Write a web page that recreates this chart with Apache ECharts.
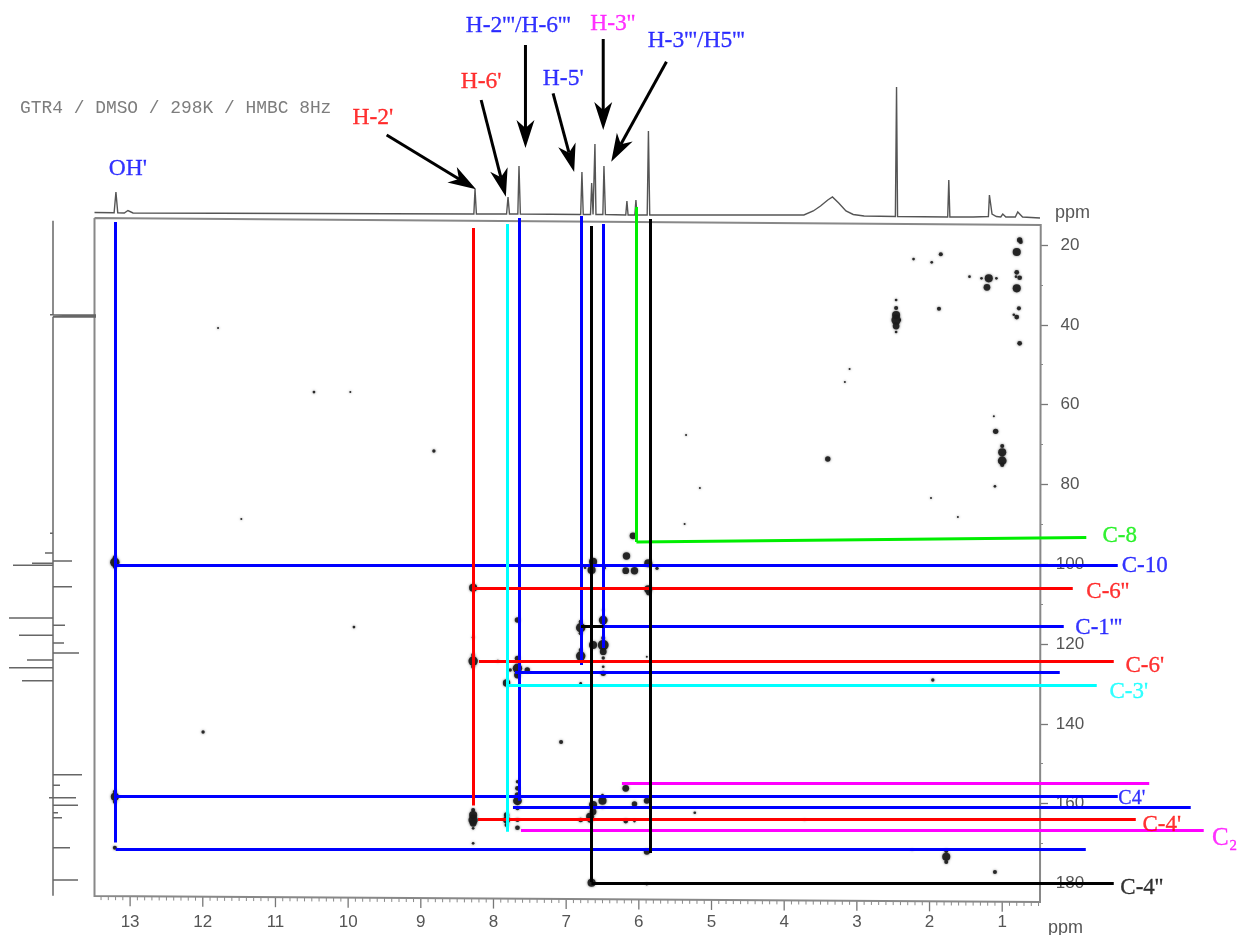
<!DOCTYPE html>
<html>
<head>
<meta charset="utf-8">
<script src="https://cdn.jsdelivr.net/npm/echarts@6/dist/echarts.min.js"></script>
<style>html,body{margin:0;padding:0;background:#fff}#c{width:1239px;height:935px}</style>
</head>
<body>
<div id="c"></div>
<script>
// Axis ticks
const ppmTicks = [13,12,11,10,9,8,7,6,5,4,3,2,1];
const carbonTicks = [20,40,60,80,100,120,140,160,180];
const ppmMinorTicks = [];
for (let i = 5; i <= 134; i++) { if (i % 10) ppmMinorTicks.push(i / 10); }
const carbonMinorTicks = [30,50,70,90,110,130,150,170];

// 1H projection (ppm, intensity)
const protonPpm = [13.49,13.22,13.195,13.17,13.08,13.03,12.96,8.27,8.254,8.235,7.82,7.80,7.78,7.665,7.649,7.63,6.80,6.783,6.765,6.665,6.649,6.63,6.62,6.604,6.59,6.495,6.48,6.46,6.18,6.164,6.148,6.055,6.04,6.025,5.885,5.868,5.85,3.729,3.6,3.5,3.4,3.336,3.25,3.15,3.05,2.9,2.47,2.454,2.44,1.75,1.735,1.72,1.4,1.19,1.176,1.14,1.08,1.02,0.992,0.95,0.82,0.786,0.72,0.48];
const protonInt = [7.5,7.2,28,7.2,7,9.5,7,6,31,6,6,23,6,6,54,6,5.5,48,5.5,5.5,37,5.5,5.5,76,5.5,5.5,54,5.5,5,19,5,5,20,5,5,89,5,5,9,14,20,23,17,9,5.5,4,3.5,133,3.5,3,40,3,3,3.5,25,6,3.5,3,6,3,3,8,3,2];

// 13C projection (ppm, intensity; sign = side of the baseline)
const carbonPpm = [27.5,37.5,37.54,37.8,38.05,92.26,97.19,99.2,99.77,100.28,105.64,113.48,115.31,117.82,119.75,122.26,124.01,125.94,129.2,152.76,155.41,158.5,158.52,160.43,162.28,163.53,171.05,179.15];
const carbonInt = [-2,-3,43,43,43,-3,-8,19,-21,-40,19,-44,12,-34,11,26,-26,-44,-31,29,7,-4,23,25,5,9,17,25];
const carbonRange = [13.2,183.1];

// HMBC cross peaks: [1H ppm, 13C ppm, intensity]
const aliphaticPeaks = [[0.76,18.75,4],[0.745,19.25,3],[0.80,21.75,6],[1.845,22.33,3],[2.22,23.51,2],[1.97,24.34,2],[0.80,26.84,3.5],[0.76,28.2,3.5],[0.81,27.94,2],[1.185,28.35,6],[1.285,28.35,2],[1.08,28.35,2],[1.45,27.94,2],[1.21,30.6,5],[0.80,30.85,6],[0.77,35.87,3],[1.87,35.97,3],[0.80,38.05,3.5],[0.84,37.47,2],[2.41,38.8,2],[0.76,44.64,3.5],[2.46,33.78,2],[2.46,35.79,3],[2.46,37.54,6],[2.46,38.8,7],[2.46,40.3,5],[2.46,41.8,2],[11.79,40.8,1.5]];
const midPeaks = [[1.115,62.93,1.5],[1.09,66.69,4],[1.00,70.38,3],[1.00,71.96,6],[1.00,74.06,6.5],[1.00,75.14,3],[1.10,80.48,2],[3.40,73.63,4],[3.165,54.34,1.5],[3.10,51.08,1.5],[10.47,56.84,2],[9.97,56.84,1.5],[8.82,71.63,2.5],[11.47,88.67,1.5],[5.35,67.62,1.5],[5.16,80.9,1.5],[5.37,89.92,1.5],[1.98,83.41,1.5],[1.61,88.17,1.5],[9.92,115.74,2],[1.955,129.02,2.5],[11.996,142.06,2.5],[7.07,144.57,3]];
const aromaticPeaks = [[6.08,92.86,5],[6.17,97.95,5.5],[6.63,99.37,6],[6.65,101.45,6],[6.74,100.88,2],[6.47,100.95,2],[6.18,101.63,5],[6.06,101.63,5.5],[5.87,99.77,6],[5.75,101.03,2.5],[8.28,105.89,6],[5.87,106.29,6],[5.87,107.3,3],[7.67,113.99,4],[6.80,115.92,7],[6.80,114.42,3],[6.80,117.32,3],[6.49,113.99,6.5],[6.49,111.48,2],[6.80,123.01,7],[6.80,121.5,3],[6.63,120.25,6],[6.49,120.25,8],[6.49,118.5,3],[6.49,121.93,5],[6.49,123.51,2.5],[8.28,124.26,7],[8.28,118.32,2],[8.28,122.76,3],[8.28,125.69,3],[7.94,124.26,2],[7.67,123.59,4],[7.67,126.09,7],[7.67,127.77,5],[7.535,126.52,4],[7.77,126.52,2.5],[7.82,129.78,5.5],[6.49,125.69,2],[6.49,127.34,4],[6.80,129.85,2],[5.89,123.18,1.5],[13.21,99.52,7],[13.21,98.27,3],[13.21,100.63,3]];
const carbonylPeaks = [[8.28,161.6,3],[8.28,162.86,6],[8.28,164.1,7],[8.28,164.94,5],[8.28,166.19,2],[8.28,169.95,2],[7.82,162.86,4],[7.82,164.1,5],[7.82,165.37,3],[7.67,154.51,2.5],[7.67,156.17,3.5],[7.67,157.85,4],[7.67,159.28,6.5],[7.67,161.18,3],[7.67,164.1,3],[7.67,166.04,3.5],[6.50,159.28,6],[6.50,157.85,2],[6.50,160.93,2],[6.63,160.35,6],[6.63,162.03,5],[6.67,163.28,6],[6.67,164.1,4],[6.80,164.1,3.5],[6.18,156.17,5],[6.06,160.1,4],[5.89,159.28,4.5],[6.18,164.36,3.5],[6.06,164.36,2],[5.89,172.05,4.5],[6.65,179.83,6],[5.89,180.15,2],[5.23,162.28,2],[3.72,164.1,1.5],[13.21,158.27,6],[13.21,157.02,3],[13.21,159.53,3],[13.21,171.05,3],[2.24,171.63,1.5],[1.77,171.88,3],[1.77,173.31,6],[1.77,174.64,3],[1.10,177.14,3]];

// Assignment guide lines: [[1H ppm, 13C ppm],[1H ppm, 13C ppm]]
const blueGuides = [
  [[13.199,14.24],[13.199,169.75]],[[7.642,13.23],[7.642,159.28]],[[6.796,12.73],[6.796,125.26]],[[6.487,14.74],[6.487,121.0]],
  [[13.199,100.28],[-0.59,100.28]],[[6.487,115.54],[0.153,115.54]],[[7.704,127.09],[0.208,127.09]],
  [[13.199,158.2],[-0.59,158.2]],[[7.732,160.93],[-1.594,160.93]],[[13.199,171.46],[-0.15,171.46]]
];
const redGuides = [
  [[8.282,15.74],[8.282,160.48]],[[8.282,106.09],[0.029,106.09]],[[8.20,124.34],[-0.535,124.34]],[[8.213,163.94],[-0.838,163.94]]
];
const cyanGuides = [[[7.808,14.74],[7.808,167.04]],[[7.808,130.35],[-0.301,130.35]]];
const blackGuides = [
  [[6.652,15.24],[6.652,179.65]],[[5.841,13.48],[5.841,172.38]],[[6.796,115.54],[6.487,115.54]],[[6.652,179.83],[-0.535,179.83]]
];
const greenGuides = [[[6.033,10.48],[6.033,94.44]],[[6.033,94.44],[-0.157,93.31]]];
const magentaGuides = [[[6.233,154.91],[-1.023,154.91]],[[7.622,166.69],[-1.773,166.69]]];

// Peak labels above the 1H trace: [ppm, height, text, colour]
const protonLabels = [[9.66,102,"H-2'","#ff0000"],[8.17,138,"H-6'","#ff0000"],[7.66,194,"H-2'''/H-6'''","#0000ff"],[7.04,141,"H-5'","#0000ff"],[6.36,196,"H-3''","#ff00ff"],[5.21,179,"H-3'''/H5'''","#0000ff"],[13.03,51,"OH'","#0000ff"]];
// Carbon labels to the right: [1H ppm, 13C ppm, text, colour, font size]
const carbonLabels = [[-0.617,92.93,"C-8","#00ee00",23],[-0.961,100.45,"C-10","#0000ff",23],[-0.452,106.97,"C-6''","#ff0000",23],[-0.329,115.99,"C-1'''","#0000ff",23],[-0.961,125.52,"C-6'","#ff0000",23],[-0.741,132.03,"C-3'","#00ffff",23],[-0.783,158.85,"C4'","#0000ff",20],[-1.195,165.37,"C-4'","#ff0000",23],[-2.062,168.62,"C\u2082","#ff00ff",25],[-0.92,181.15,"C-4''","#000000",23]];
// Arrows in the 1H panel: [from ppm, from height, to ppm, to height]
const arrows = [[9.47,85,8.24,30.7],[8.17,120,7.83,23.3],[7.56,175,7.56,72],[7.18,126.7,6.89,48],[6.49,181,6.49,90],[5.62,158.3,6.38,58.3]];
// Outline of the skewed scan frame: [1H ppm, 13C ppm]
const frameOutline = [[13.49,13.23],[0.47,14.98],[0.48,184.66],[13.49,183.16],[13.49,13.23]];

const xMin = 0.48, xMax = 13.49, yMin = 14.1, yMax = 183.9;
const TEXT = '#555', SERIF = '"Liberation Serif","Times New Roman",serif', FRAME = '#888';

function frameBottom(p) {
  const a = frameOutline[3], b = frameOutline[2];
  return a[1] + (p - a[0]) / (b[0] - a[0]) * (b[1] - a[1]);
}
function tickItem(len, color, width) {
  return function (params, api) {
    const p = api.value(0);
    const o = api.coord([p, frameBottom(p)]);
    return { type: 'line', silent: true,
      shape: { x1: o[0], y1: o[1], x2: o[0], y2: o[1] + len },
      style: { stroke: color, lineWidth: width } };
  };
}

const series = [];
series.push({
  type: 'custom', name: 'minor ppm ticks', xAxisIndex: 0, yAxisIndex: 0, silent: true, z: 1, clip: false,
  data: ppmMinorTicks.map(v => [v]), encode: { x: 0 }, renderItem: tickItem(4, '#8a8a8a', 1)
});
series.push({
  type: 'custom', name: 'major ppm ticks', xAxisIndex: 0, yAxisIndex: 0, silent: true, z: 1, clip: false,
  data: ppmTicks.map(v => [v]), encode: { x: 0 }, renderItem: tickItem(10, '#777', 1.3)
});
series.push({
  type: 'lines', name: 'frame', coordinateSystem: 'cartesian2d', xAxisIndex: 0, yAxisIndex: 0, polyline: true, clip: false, silent: true, z: 1,
  data: [{ coords: frameOutline }], lineStyle: { color: FRAME, width: 2, opacity: 1 }
});
series.push({
  type: 'scatter', xAxisIndex: 0, yAxisIndex: 0, clip: false, silent: true, z: 3,
  data: [].concat(aliphaticPeaks, midPeaks, aromaticPeaks, carbonylPeaks),
  symbolSize: v => v[2] * 1.35,
  itemStyle: { color: '#1c1c1c', opacity: 0.92, shadowBlur: 2.5, shadowColor: 'rgba(0,0,0,0.6)' }
});
function guide(list, color) {
  series.push({
    type: 'lines', coordinateSystem: 'cartesian2d', xAxisIndex: 0, yAxisIndex: 0, clip: false, silent: true, z: 5,
    data: list.map(seg => ({ coords: seg })),
    lineStyle: { color: color, width: 3, opacity: 1, curveness: 0 }
  });
}
guide(greenGuides, '#00ee00');
guide(blueGuides, '#0000ff');
guide(redGuides, '#ff0000');
guide(cyanGuides, '#00ffff');
guide(magentaGuides, '#ff00ff');
guide(blackGuides, '#000000');
series.push({
  type: 'line', xAxisIndex: 1, yAxisIndex: 1, symbol: 'none', silent: true, z: 2,
  data: protonPpm.map((p, i) => [p, protonInt[i]]),
  lineStyle: { color: '#555', width: 1.4, join: 'miter' }
});
const leftPath = [[0, carbonRange[0]]];
carbonPpm.forEach((c, i) => { leftPath.push([0, c], [carbonInt[i], c], [0, c]); });
leftPath.push([0, carbonRange[1]]);
series.push({
  type: 'line', xAxisIndex: 2, yAxisIndex: 2, symbol: 'none', silent: true, z: 2,
  data: leftPath, lineStyle: { color: '#666', width: 1.5 }
});
series.push({
  type: 'custom', name: 'arrows', xAxisIndex: 1, yAxisIndex: 1, silent: true, z: 6, clip: false,
  data: arrows, encode: { x: [0, 2], y: [1, 3] },
  renderItem: function (params, api) {
    const a = api.coord([api.value(0), api.value(1)]);
    const b = api.coord([api.value(2), api.value(3)]);
    const d = Math.hypot(b[0] - a[0], b[1] - a[1]);
    const ux = (b[0] - a[0]) / d, uy = (b[1] - a[1]) / d;
    const L = 28, W = 9, N = 8;
    const back = [b[0] - ux * L, b[1] - uy * L];
    const notch = [b[0] - ux * (L - N), b[1] - uy * (L - N)];
    return { type: 'group', silent: true, children: [
      { type: 'line', shape: { x1: a[0], y1: a[1], x2: notch[0], y2: notch[1] }, style: { stroke: '#000', lineWidth: 3 } },
      { type: 'polygon', shape: { points: [b, [back[0] - uy * W, back[1] + ux * W], notch, [back[0] + uy * W, back[1] - ux * W]] }, style: { fill: '#000' } }
    ] };
  }
});
function labelStyle(color, size) {
  return { show: true, position: 'inside', formatter: '{b}', color: color, fontFamily: SERIF, fontSize: size, textBorderColor: color, textBorderWidth: 0.3 };
}
series.push({
  type: 'scatter', xAxisIndex: 1, yAxisIndex: 1, clip: false, silent: true, symbolSize: 0, z: 7,
  data: protonLabels.map(l => ({ value: [l[0], l[1]], name: l[2], label: labelStyle(l[3], 23.5) }))
});
series.push({
  type: 'scatter', xAxisIndex: 0, yAxisIndex: 0, clip: false, silent: true, symbolSize: 0, z: 7,
  data: carbonLabels.map(l => ({ value: [l[0], l[1]], name: l[2], label: labelStyle(l[3], l[4]) }))
});

const option = {
  animation: false,
  backgroundColor: '#fff',
  tooltip: { show: false },
  graphic: [
    { type: 'text', left: 20, top: 99, silent: true, style: { text: 'GTR4 / DMSO / 298K / HMBC 8Hz', fill: '#7d7d7d', font: '17.9px "Liberation Mono"' } },
    { type: 'text', left: 1055, top: 204, silent: true, style: { text: 'ppm', fill: TEXT, font: '18px "Liberation Sans"' } },
    { type: 'text', left: 1048, top: 919, silent: true, style: { text: 'ppm', fill: TEXT, font: '18px "Liberation Sans"' } }
  ],
  grid: [
    { left: 94.5, width: 945.5, top: 221.5, height: 677.5 },
    { left: 94.5, width: 945.5, top: 0, height: 220 },
    { left: 0, width: 94.5, top: 221.5, height: 677.5 }
  ],
  xAxis: [
    { type: 'value', gridIndex: 0, inverse: true, min: xMin, max: xMax, position: 'bottom', splitLine: { show: false },
      axisLine: { show: false }, axisTick: { show: false },
      axisLabel: { show: true, margin: 15, color: TEXT, fontSize: 17, fontFamily: '"Liberation Sans"', customValues: ppmTicks } },
    { type: 'value', gridIndex: 1, inverse: true, min: xMin, max: xMax, show: false },
    { type: 'value', gridIndex: 2, min: -53, max: 41.5, show: false }
  ],
  yAxis: [
    { type: 'value', gridIndex: 0, inverse: true, min: yMin, max: yMax, position: 'right', splitLine: { show: false },
      axisLine: { show: false },
      axisTick: { show: true, length: 8, lineStyle: { color: '#777', width: 1.3 }, customValues: carbonTicks },
      axisLabel: { show: true, margin: 30, align: 'center', color: TEXT, fontSize: 17, fontFamily: '"Liberation Sans"', customValues: carbonTicks } },
    { type: 'value', gridIndex: 1, min: 0, max: 220, show: false },
    { type: 'value', gridIndex: 2, inverse: true, min: yMin, max: yMax, show: false },
    { type: 'value', gridIndex: 0, inverse: true, min: yMin, max: yMax, position: 'right', splitLine: { show: false },
      axisLine: { show: false }, axisLabel: { show: false },
      axisTick: { show: true, length: 3, lineStyle: { color: '#888', width: 1 }, customValues: carbonMinorTicks } }
  ],
  series: series
};
echarts.init(document.getElementById('c'), null, { renderer: 'canvas' }).setOption(option);
</script>
</body>
</html>
